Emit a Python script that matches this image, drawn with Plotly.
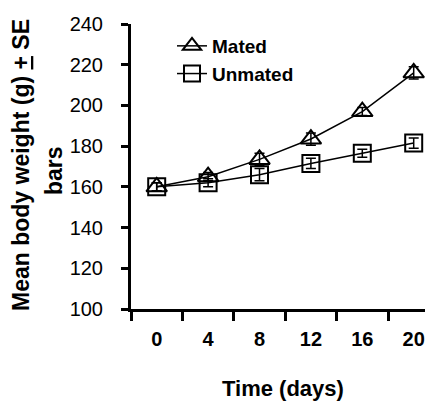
import plotly.graph_objects as go

days = ["0", "4", "8", "12", "16", "20"]
mated = [160, 165, 173.5, 183.5, 197, 216]
mated_se = [2, 2, 3, 3, 2, 3]
unmated = [160, 162, 166, 171.5, 176.5, 181.5]
unmated_se = [2, 2, 3, 2.5, 2, 2.5]
y_ticks = [100, 120, 140, 160, 180, 200, 220, 240]

FONT = "Liberation Sans, Arial, sans-serif"

fig = go.Figure()
fig.add_trace(go.Scatter(
    x=days, y=mated, name="<b>Mated</b>", mode="lines+markers",
    line=dict(color="black", width=1.5),
    marker=dict(symbol="triangle-up-open", size=18, color="black", line=dict(width=2, color="black")),
    error_y=dict(type="data", array=mated_se, visible=True, color="black", thickness=1.5, width=5),
    cliponaxis=False,
))
fig.add_trace(go.Scatter(
    x=days, y=unmated, name="<b>Unmated</b>", mode="lines+markers",
    line=dict(color="black", width=1.5),
    marker=dict(symbol="square-open", size=17, color="black", line=dict(width=2, color="black")),
    error_y=dict(type="data", array=unmated_se, visible=True, color="black", thickness=1.5, width=5),
    cliponaxis=False,
))

L, T, B = 131, 24, 94
W, H = 425, 403
pw = W - L
ph = H - T - B

fig.update_layout(
    width=W, height=H,
    margin=dict(l=L, r=0, t=T, b=B),
    plot_bgcolor="white", paper_bgcolor="white",
    font=dict(family=FONT, color="black", size=20),
    showlegend=True,
    legend=dict(x=(172 - L) / pw, y=1.0 - 3 / ph, xanchor="left", yanchor="top",
                font=dict(size=19, family=FONT, color="black"), bgcolor="rgba(0,0,0,0)",
                itemwidth=30, tracegroupgap=0),
    xaxis=dict(type="category", categoryorder="array", categoryarray=days,
               range=[-0.5, -0.5 + pw / 51.4], tickson="boundaries",
               showline=True, linecolor="black", linewidth=3,
               ticks="outside", ticklen=9, tickwidth=3, tickcolor="black",
               showgrid=False, zeroline=False, ticklabelstandoff=10,
               tickfont=dict(size=20, family=FONT), tickprefix="<b>", ticksuffix="</b>"),
    yaxis=dict(range=[100, 240], tickvals=y_ticks,
               showline=True, linecolor="black", linewidth=3,
               ticks="outside", ticklen=7, tickwidth=3, tickcolor="black",
               showgrid=False, zeroline=False, ticklabelstandoff=14,
               tickfont=dict(size=20, family=FONT), tickprefix="<b>", ticksuffix="</b>"),
)

fig.add_annotation(text="<b>Time (days)</b>", xref="paper", yref="paper",
                   x=(283 - L) / pw, y=(H - B - 388) / ph, xanchor="center", yanchor="middle",
                   showarrow=False, font=dict(size=22, family=FONT))
fig.add_annotation(text="<b>Mean body weight (g) <u>+</u> SE</b>", xref="paper", yref="paper",
                   x=(21 - L) / pw, y=(H - B - 165) / ph, xanchor="center", yanchor="middle",
                   textangle=-90, showarrow=False, font=dict(size=23, family=FONT))
fig.add_annotation(text="<b>bars</b>", xref="paper", yref="paper",
                   x=(54 - L) / pw, y=(H - B - 171) / ph, xanchor="center", yanchor="middle",
                   textangle=-90, showarrow=False, font=dict(size=23, family=FONT))

fig.write_html("out.html", config={"displayModeBar": False},
               post_script="document.body.style.margin='0';document.body.style.overflow='hidden';")
